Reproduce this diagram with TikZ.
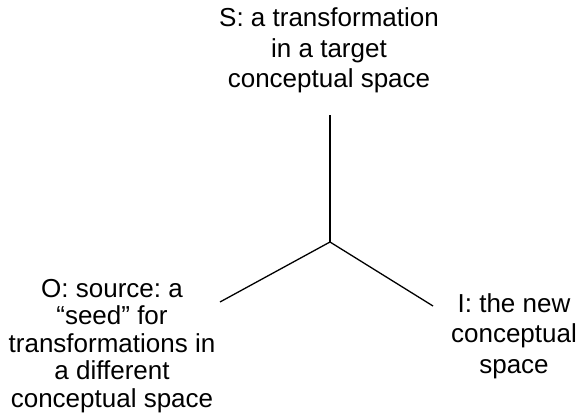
\documentclass[tikz,border=0pt]{standalone}
\usepackage{fontspec}
\setmainfont{Liberation Sans}
\frenchspacing
\begin{document}
\begin{tikzpicture}[x=1pt,y=-1pt,
  lbl/.style={align=center,inner sep=0pt,anchor=base,font=\fontsize{26}{30.5}\selectfont},
  conn/.style={line width=1.3pt,black}]
\useasboundingbox (0,0) rectangle (581,420);
\node[lbl] (S) at (329,88) {S: a transformation\\in a target\\conceptual space};
\node[lbl,font=\fontsize{26}{27.5}\selectfont] (O) at (112,407) {O: source: a\\``seed'' for\\transformations in\\a different\\conceptual space};
\node[lbl] (I) at (514,373) {I: the new\\conceptual\\space};
\coordinate (c) at (330,242);
\coordinate (t) at (330,115);
\coordinate (l) at (220,302);
\coordinate (r) at (433,306);
\draw[conn] (c) -- (t);
\draw[conn] (c) -- (l);
\draw[conn] (c) -- (r);
\end{tikzpicture}
\end{document}
